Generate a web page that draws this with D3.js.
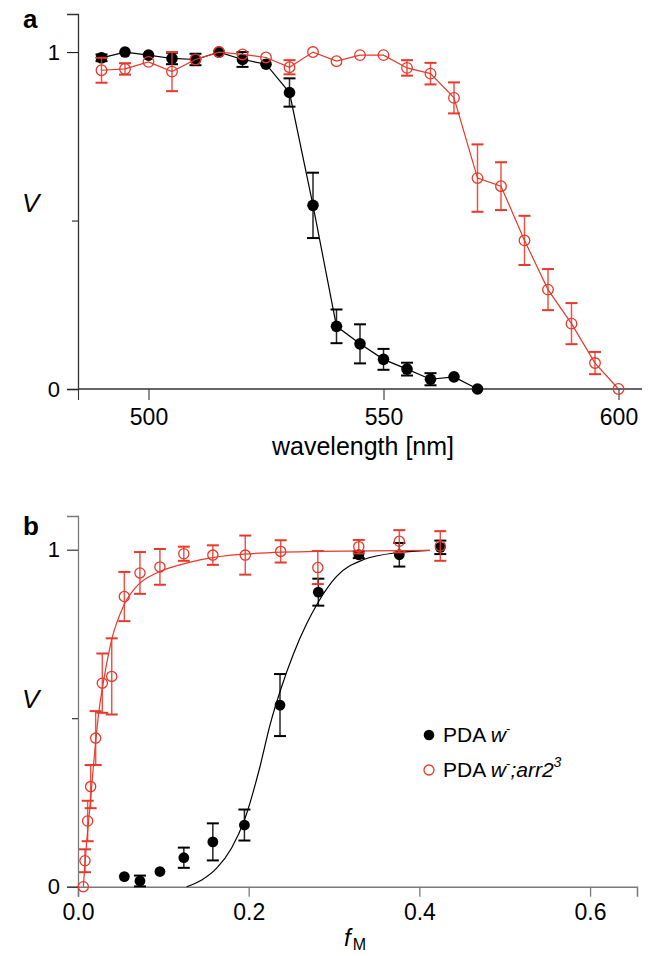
<!DOCTYPE html>
<html><head><meta charset="utf-8">
<script src="https://cdn.jsdelivr.net/npm/d3@7"></script>
<style>
body{margin:0;background:#fff;}
text{font-family:"Liberation Sans",Arial,Helvetica,sans-serif;}
</style></head>
<body><svg id="c" width="648" height="956"></svg>
<script>
// ---- Panel a data ----
const wlBlack = [490,495,500,505,510,515,520,525,530,535,540,545,550,555,560,565,570];
const vBlack  = [0.983,1.0,0.991,0.981,0.978,1.0,0.978,0.964,0.880,0.545,0.186,0.134,0.088,0.059,0.029,0.036,0.0];
const eBlack  = [0.01,0,0,0.017,0.017,0,0.022,0,0.042,0.097,0.05,0.058,0.031,0.019,0.018,0,0];
const wlRed = [490,495,500,505,510,515,520,525,530,535,540,545,550,555,560,565,570,575,580,585,590,595,600];
const vRed  = [0.946,0.950,0.971,0.942,0.978,1.0,0.993,0.984,0.955,1.0,0.973,0.991,0.991,0.953,0.936,0.864,0.626,0.602,0.441,0.295,0.194,0.077,0.0];
const eRed  = [0.037,0.017,0,0.058,0,0,0,0,0.021,0,0,0,0,0.023,0.032,0.046,0.1,0.071,0.073,0.061,0.061,0.033,0];
const wlTicks = [485,500,550,600];

// ---- Panel b data ----
const fBlack = [0.0543,0.0726,0.096,0.124,0.158,0.195,0.2367,0.2816,0.329,0.3765,0.4245];
const bBlack = [0.030,0.017,0.045,0.086,0.133,0.183,0.539,0.874,0.985,0.985,1.007];
const beBlack= [0,0.016,0,0.03,0.055,0.046,0.092,0.04,0.01,0.035,0.02];
const fRed = [0.0062,0.0082,0.0113,0.0148,0.0207,0.0285,0.0395,0.0543,0.0726,0.096,0.124,0.158,0.196,0.2375,0.281,0.329,0.3765,0.4245];
const bRed = [0.0,0.077,0.195,0.297,0.441,0.604,0.624,0.861,0.931,0.949,0.988,0.984,0.984,0.995,0.947,1.009,1.025,1.011];
const beRed= [0,0.034,0.06,0.064,0.08,0.088,0.113,0.073,0.062,0.053,0.021,0.029,0.058,0.033,0.049,0.02,0.033,0.044];
// fit curves
const fitBlackF = [0.1273,0.145,0.1625,0.18,0.195,0.2132,0.225,0.2375,0.2523,0.2679,0.2816,0.303,0.334,0.377,0.412];
const fitBlackV = [0.0,0.02,0.055,0.115,0.198,0.356,0.48,0.585,0.69,0.78,0.845,0.921,0.970,0.992,0.998];
const fitRedF = [0.0062,0.0094,0.014,0.018,0.0238,0.0316,0.0395,0.0531,0.0687,0.0922,0.1195,0.143,0.194,0.28,0.412];
const fitRedV = [0.0,0.109,0.238,0.356,0.505,0.634,0.733,0.832,0.891,0.931,0.955,0.970,0.987,0.995,0.998];
const fTicks = [0,0.2,0.4,0.6];
const vTicks = [0,0.5,1];

const RED = "#e5392b";
const svg = d3.select("#c");

function yAxis(g, y, color){
  const ax = d3.axisLeft(y).tickValues(vTicks).tickSize(11).tickPadding(7)
    .tickFormat(d => d===0.5 ? "" : d3.format("d")(d));
  g.call(ax);
  g.select(".domain").attr("stroke", color).attr("stroke-width",1.3);
  g.selectAll(".tick line").attr("stroke","#222").attr("stroke-width",1.1)
    .attr("x2", d => d===0.5 ? -6 : -11);
  g.selectAll(".tick text").attr("font-size",22).attr("fill","#000");
}

// ================= Panel a =================
const xa = d3.scaleLinear().domain([485,605]).range([78,642]);
const ya = d3.scaleLinear().domain([0,1.113]).range([389,14]);
const ga = svg.append("g");
const gxa = ga.append("g").attr("transform","translate(0,389)")
  .call(d3.axisBottom(xa).tickValues(wlTicks).tickSize(11).tickPadding(9)
    .tickFormat(d => d===485 ? "" : d));
gxa.select(".domain").attr("stroke","#333").attr("stroke-width",1.3).attr("d","M78,0H642");
gxa.selectAll(".tick line").attr("stroke","#333").attr("stroke-width",1.1);
gxa.selectAll(".tick text").attr("font-size",23).attr("fill","#000");
yAxis(ga.append("g").attr("transform","translate(78,0)"), ya, "#333");

function drawSeries(g, xs, ys, es, x, y, color, filled, r, connect){
  const pts = xs.map((d,i)=>({x:d,v:ys[i],e:es[i]}));
  if(connect){
    g.append("path").datum(pts)
      .attr("d", d3.line().x(d=>x(d.x)).y(d=>y(d.v)))
      .attr("fill","none").attr("stroke",color).attr("stroke-width",1.2);
  }
  const eb = g.append("g").attr("stroke",color).attr("stroke-width",1.5);
  pts.filter(d=>d.e>0).forEach(d=>{
    const cx = x(d.x), y1 = y(d.v+d.e), y2 = y(d.v-d.e);
    eb.append("line").attr("x1",cx).attr("x2",cx).attr("y1",y1).attr("y2",y2).attr("stroke-opacity",0.85);
    eb.append("line").attr("x1",cx-6).attr("x2",cx+6).attr("y1",y1).attr("y2",y1).attr("stroke-width",2);
    eb.append("line").attr("x1",cx-6).attr("x2",cx+6).attr("y1",y2).attr("y2",y2).attr("stroke-width",2);
  });
  g.append("g").selectAll("circle").data(pts).join("circle")
    .attr("cx",d=>x(d.x)).attr("cy",d=>y(d.v)).attr("r",r)
    .attr("fill", filled ? color : "#fff").attr("fill-opacity", filled?1:0)
    .attr("stroke",color).attr("stroke-width", filled?0:1.3);
}
drawSeries(ga.append("g"), wlBlack, vBlack, eBlack, xa, ya, "#000", true, 5.8, true);
drawSeries(ga.append("g"), wlRed, vRed, eRed, xa, ya, RED, false, 5.3, true);

ga.append("text").attr("x",23).attr("y",28).attr("font-size",26).attr("font-weight","bold").text("a");
ga.append("text").attr("x",22).attr("y",212).attr("font-size",26).attr("font-style","italic").text("V");
ga.append("text").attr("x",363).attr("y",455).attr("font-size",25).attr("text-anchor","middle").text("wavelength [nm]");

// ================= Panel b =================
const xb = d3.scaleLinear().domain([0,0.655]).range([78,637]);
const yb = d3.scaleLinear().domain([0,1.1]).range([886.7,516]);
const gb = svg.append("g");
const gxb = gb.append("g").attr("transform","translate(0,886.7)")
  .call(d3.axisBottom(xb).tickValues(fTicks).tickSize(10).tickPadding(7).tickFormat(d3.format(".1f")));
gxb.select(".domain").attr("stroke","#7a7a7a").attr("stroke-width",1.5);
gxb.selectAll(".tick line").attr("stroke","#7a7a7a").attr("stroke-width",1.3);
gxb.selectAll(".tick text").attr("font-size",23).attr("fill","#000");
yAxis(gb.append("g").attr("transform","translate(78,0)"), yb, "#7a7a7a");

function drawFit(g, fs, vs, color){
  const pts = fs.map((d,i)=>({x:d,v:vs[i]}));
  g.append("path").datum(pts)
    .attr("d", d3.line().x(d=>xb(d.x)).y(d=>yb(d.v)).curve(d3.curveMonotoneX))
    .attr("fill","none").attr("stroke",color).attr("stroke-width",1.2);
}
drawFit(gb, fitBlackF, fitBlackV, "#000");
drawSeries(gb.append("g"), fBlack, bBlack, beBlack, xb, yb, "#000", true, 5.4, false);
drawFit(gb, fitRedF, fitRedV, RED);
drawSeries(gb.append("g"), fRed, bRed, beRed, xb, yb, RED, false, 5.1, false);

gb.append("text").attr("x",23).attr("y",535).attr("font-size",26).attr("font-weight","bold").text("b");
gb.append("text").attr("x",22).attr("y",708).attr("font-size",26).attr("font-style","italic").text("V");
const fl = gb.append("text").attr("x",344).attr("y",946).attr("font-size",24);
fl.append("tspan").attr("font-style","italic").text("f");
fl.append("tspan").attr("font-size",16).attr("dy",4).attr("dx",2).text("M");

// legend
const lg = gb.append("g");
lg.append("circle").attr("cx",429).attr("cy",735).attr("r",5.3).attr("fill","#000");
lg.append("circle").attr("cx",429).attr("cy",770).attr("r",5).attr("fill","none").attr("stroke",RED).attr("stroke-width",1.3);
const t1 = lg.append("text").attr("x",443).attr("y",742).attr("font-size",21);
t1.append("tspan").text("PDA ");
t1.append("tspan").attr("font-style","italic").text("w");
t1.append("tspan").attr("font-size",13).attr("dy",-9).text("-");
const t2 = lg.append("text").attr("x",443).attr("y",777).attr("font-size",21);
t2.append("tspan").text("PDA ");
t2.append("tspan").attr("font-style","italic").text("w");
t2.append("tspan").attr("font-size",13).attr("dy",-9).text("-");
t2.append("tspan").attr("font-style","italic").attr("dy",9).text(";arr2");
t2.append("tspan").attr("font-style","italic").attr("font-size",14).attr("dy",-10).text("3");
</script></body></html>
